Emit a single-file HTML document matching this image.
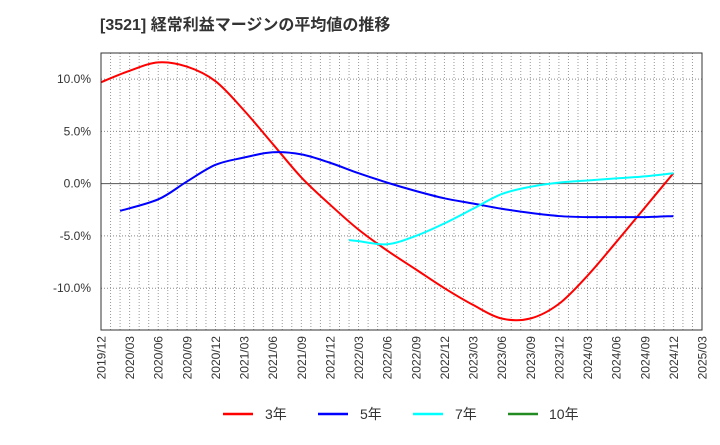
<!DOCTYPE html>
<html><head><meta charset="utf-8"><style>
body{margin:0;background:#fff;width:720px;height:440px;overflow:hidden;font-family:"Liberation Sans","Noto Sans CJK JP",sans-serif}
</style></head><body>
<svg width="720" height="440" xmlns="http://www.w3.org/2000/svg" font-family="Liberation Sans, Noto Sans CJK JP, sans-serif">
<text x="100" y="30" font-size="16" font-weight="bold" fill="#333">[3521]  経常利益マージンの平均値の推移</text>
<g id="grid"></g>
<g id="series"></g>
<rect x="101" y="53" width="601" height="277" fill="none" stroke="#333" stroke-width="1"/>
<g id="yticks"></g><g id="xticks"></g>
<g font-size="14" fill="#333">
<g><line x1="223" y1="414" x2="253" y2="414" stroke="#ff0000" stroke-width="2.5"/><text x="265" y="419">3年</text></g>
<g><line x1="318" y1="414" x2="348" y2="414" stroke="#0000ff" stroke-width="2.5"/><text x="360" y="419">5年</text></g>
<g><line x1="413" y1="414" x2="443" y2="414" stroke="#00ffff" stroke-width="2.5"/><text x="455" y="419">7年</text></g>
<g><line x1="508" y1="414" x2="538" y2="414" stroke="#228b22" stroke-width="2.5"/><text x="549" y="419">10年</text></g>
</g>
</svg>
<script>
const xLabels=["2019/12","2020/03","2020/06","2020/09","2020/12","2021/03","2021/06","2021/09","2021/12","2022/03","2022/06","2022/09","2022/12","2023/03","2023/06","2023/09","2023/12","2024/03","2024/06","2024/09","2024/12","2025/03"];
const yTicks=[10,5,0,-5,-10];
const months3=[0,3,6,9,12,15,18,21,24,27,30,33,36,39,42,45,48,51,54,57,60];
const vals3=[9.7,10.8,11.6,11.2,9.8,7.0,3.8,0.6,-2.0,-4.4,-6.4,-8.2,-10.0,-11.6,-12.9,-12.9,-11.5,-8.8,-5.6,-2.3,1.0];
const months5=[2,6,9,12,15,18,21,24,27,30,33,36,39,42,45,48,51,54,57,60];
const vals5=[-2.6,-1.5,0.2,1.8,2.5,3.0,2.8,2.0,1.0,0.1,-0.7,-1.4,-1.9,-2.4,-2.8,-3.1,-3.2,-3.2,-3.2,-3.1];
const months7=[26,27,30,33,36,39,42,45,48,51,54,57,60];
const vals7=[-5.4,-5.5,-5.8,-5.0,-3.8,-2.4,-1.0,-0.3,0.1,0.3,0.5,0.7,1.0];
const NS="http://www.w3.org/2000/svg";
const X0=101,X1=702,Y0=53,Y1=330,YMAX=12.5,YMIN=-14;
const xs=m=>X0+(X1-X0)*m/63;
const ys=v=>Y0+(YMAX-v)/(YMAX-YMIN)*(Y1-Y0);
function mk(t,a,p){const e=document.createElementNS(NS,t);for(const k in a)e.setAttribute(k,a[k]);p.appendChild(e);return e;}
const grid=document.getElementById('grid');
for(let m=1;m<63;m++){const l=mk('line',{x1:xs(m),x2:xs(m),y1:Y0,y2:Y1,stroke:'#999','stroke-dasharray':'1,2','stroke-width':1},grid);

}
const yt=document.getElementById('yticks');
yTicks.forEach(v=>{const l=mk('line',{x1:X0,x2:X1,y1:ys(v),y2:ys(v),stroke:v===0?'#555':'#888','stroke-dasharray':v===0?'':'1,2'},grid);


const t=mk('text',{x:91,y:ys(v)+4,'text-anchor':'end','font-size':12,fill:'#333'},yt);t.textContent=v.toFixed(1)+'%';

});
const xt=document.getElementById('xticks');
xLabels.forEach((s,i)=>{const x=xs(i*3);const t=mk('text',{x:0,y:0,transform:`translate(${x+4.5},${336}) rotate(-90)`,'text-anchor':'end','font-size':12,fill:'#333'},xt);t.textContent=s;

});
function path(ms,vs){const p=ms.map((m,i)=>[xs(m),ys(vs[i])]);let d=`M${p[0][0]},${p[0][1]}`;
for(let i=0;i<p.length-1;i++){const a=p[i-1]||p[i],b=p[i],c=p[i+1],e=p[i+2]||c;
d+=` C${b[0]+(c[0]-a[0])/6},${b[1]+(c[1]-a[1])/6} ${c[0]-(e[0]-b[0])/6},${c[1]-(e[1]-b[1])/6} ${c[0]},${c[1]}`;}return d;}
const sg=document.getElementById('series');
[[months3,vals3,'#ff0000','line-3y'],[months5,vals5,'#0000ff','line-5y'],[months7,vals7,'#00ffff','line-7y']].forEach(([m,v,c,n])=>{
const e=mk('path',{d:path(m,v),fill:'none',stroke:c,'stroke-width':2},sg);

});
</script>
</body></html>
